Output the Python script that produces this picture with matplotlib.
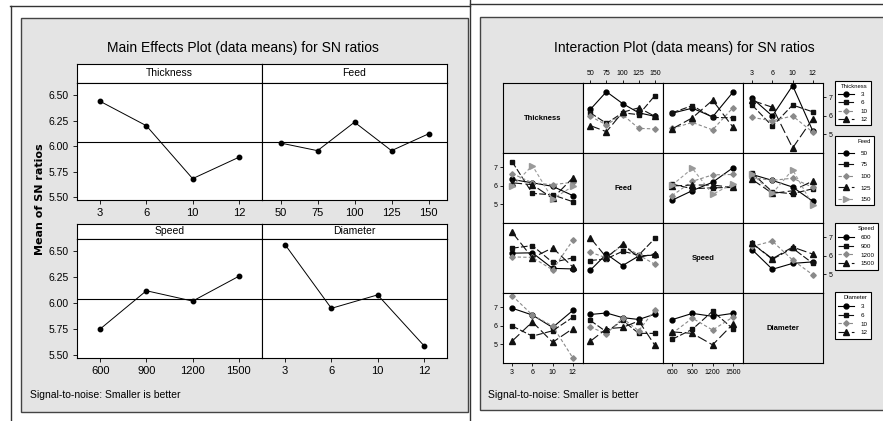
import numpy as np
import matplotlib
matplotlib.use('Agg')
import matplotlib.pyplot as plt
from matplotlib.patches import Rectangle
from matplotlib.lines import Line2D

plt.rcParams['font.family'] = ['Liberation Sans', 'DejaVu Sans']

# factor levels
thickness = ['3', '6', '10', '12']
feed = ['50', '75', '100', '125', '150']
speed = ['600', '900', '1200', '1500']
diameter = ['3', '6', '10', '12']

# main effects (mean SN ratio per level)
sn_thickness = [6.44, 6.20, 5.68, 5.89]
sn_feed = [6.03, 5.955, 6.235, 5.955, 6.12]
sn_speed = [5.75, 6.12, 6.02, 6.26]
sn_diameter = [6.565, 5.95, 6.08, 5.59]
grand_mean = 6.045

# two-way means, rows = first factor levels, cols = second factor levels
sn_thick_feed = [[6.35, 7.31, 6.67, 6.17, 5.98],
                 [6.17, 5.60, 6.17, 6.07, 7.10],
                 [5.98, 5.52, 6.07, 5.33, 5.30],
                 [5.48, 5.15, 6.20, 6.44, 5.98]]
sn_thick_speed = [[6.15, 6.42, 5.95, 7.28],
                  [6.17, 6.56, 5.92, 5.90],
                  [5.33, 5.65, 5.25, 6.44],
                  [5.30, 5.90, 6.85, 5.40]]
sn_thick_diam = [[6.96, 6.00, 7.64, 5.18],
                 [6.59, 5.45, 6.59, 6.22],
                 [5.92, 5.74, 6.00, 5.12],
                 [6.84, 6.47, 4.27, 5.86]]
sn_feed_speed = [[5.23, 5.75, 6.20, 6.98],
                 [6.10, 5.85, 5.90, 5.92],
                 [5.48, 6.25, 6.60, 6.62],
                 [6.00, 6.05, 6.05, 5.92],
                 [6.05, 6.95, 5.55, 6.12]]
sn_feed_diam = [[6.62, 6.30, 5.94, 5.17],
                [6.70, 5.68, 5.58, 5.85],
                [6.45, 6.30, 6.42, 5.92],
                [6.35, 5.60, 5.74, 6.27],
                [6.64, 5.60, 6.88, 4.95]]
sn_speed_diam = [[6.34, 5.28, 5.60, 5.68],
                 [6.68, 5.82, 6.42, 5.60],
                 [6.52, 6.80, 5.78, 4.98],
                 [6.68, 5.85, 6.48, 6.10]]

W, H = 883, 421
fig = plt.figure(figsize=(W / 100, H / 100), dpi=100)
fig.patch.set_facecolor('white')
panel_grey = '#e4e4e4'


def box(x0, y0, x1, y1):
    # pixel box (top-left origin) -> figure rect
    return [x0 / W, 1 - y1 / H, (x1 - x0) / W, (y1 - y0) / H]


def fline(xs, ys, **kw):
    fig.add_artist(Line2D([x / W for x in xs], [1 - y / H for y in ys],
                          transform=fig.transFigure, zorder=-5, **kw))


# page frame lines and grey panels (behind the axes)
fline([10, 470], [6, 6], color='#333', lw=1)
fline([11, 11], [6, 421], color='#333', lw=1)
fline([470, 470], [0, 421], color='#333', lw=1)
fline([470, 883], [4, 4], color='#333', lw=1)
fig.add_artist(Rectangle((21 / W, 1 - 412 / H), 447 / W, 394 / H, transform=fig.transFigure,
                         fc=panel_grey, ec='#444', lw=1, zorder=-10))
fig.add_artist(Rectangle((480 / W, 1 - 410 / H), 410 / W, 393 / H, transform=fig.transFigure,
                         fc=panel_grey, ec='#444', lw=1, zorder=-10))

# ---------------- main effects plot ----------------
fig.text(243 / W, 1 - 48 / H, 'Main Effects Plot (data means) for SN ratios',
         ha='center', va='center', fontsize=10)
fig.text(40 / W, 1 - 199 / H, 'Mean of SN ratios', rotation=90, ha='center', va='center',
         fontsize=8, fontweight='bold', family='DejaVu Sans')
fig.text(30 / W, 1 - 395 / H, 'Signal-to-noise: Smaller is better', ha='left', va='center', fontsize=7.5)

me_factors = [('Thickness', thickness, sn_thickness), ('Feed', feed, sn_feed),
              ('Speed', speed, sn_speed), ('Diameter', diameter, sn_diameter)]
me_cols = [(77, 262), (262, 447)]
me_rows = [(64, 83, 200), (224, 239, 358)]
yt = [5.5, 5.75, 6.0, 6.25, 6.5]

for k, (name, levels, vals) in enumerate(me_factors):
    r, c = divmod(k, 2)
    x0, x1 = me_cols[c]
    s0, p0, p1 = me_rows[r]
    strip = fig.add_axes(box(x0, s0, x1, p0))
    strip.set_xticks([])
    strip.set_yticks([])
    strip.text(0.5, 0.5, name, ha='center', va='center', fontsize=7.5, transform=strip.transAxes)
    ax = fig.add_axes(box(x0, p0, x1, p1))
    pos = np.arange(len(levels))
    ax.plot(pos, vals, color='black', lw=0.7, marker='o', ms=3.2)
    ax.axhline(grand_mean, color='black', lw=0.8)
    ax.set_xlim(-0.5, len(levels) - 0.5)
    ax.set_ylim(5.47, 6.62)
    ax.set_xticks(pos)
    ax.set_xticklabels(levels, fontsize=8)
    ax.set_yticks(yt)
    if c == 0:
        ax.set_yticklabels(['%.2f' % v for v in yt], fontsize=7.5)
    else:
        ax.tick_params(left=False, labelleft=False)
    ax.tick_params(length=3, width=0.6, pad=3)

# ---------------- interaction plot ----------------
fig.text(684 / W, 1 - 48 / H, 'Interaction Plot (data means) for SN ratios',
         ha='center', va='center', fontsize=10)
fig.text(488 / W, 1 - 395 / H, 'Signal-to-noise: Smaller is better', ha='left', va='center', fontsize=7.5)

factors = [('Thickness', thickness), ('Feed', feed), ('Speed', speed), ('Diameter', diameter)]
tables = {(0, 1): sn_thick_feed, (0, 2): sn_thick_speed, (0, 3): sn_thick_diam,
          (1, 2): sn_feed_speed, (1, 3): sn_feed_diam, (2, 3): sn_speed_diam}
markers = ['o', 's', 'D', '^', '>']
colors = ['black', '#111111', '#8a8a8a', '#111111', '#9a9a9a']
styles = ['-', (0, (6, 2)), (0, (3, 2)), (0, (9, 3)), (0, (3, 2))]
msizes = [3.5, 3.4, 2.8, 3.8, 3.8]
col_x = [503, 583, 663, 743, 823]
row_y = [83, 153, 223, 293, 363]
row_handles = {}

for i in range(4):
    for j in range(4):
        ax = fig.add_axes(box(col_x[j], row_y[i], col_x[j + 1], row_y[i + 1]))
        ax.tick_params(bottom=False, left=False, labelbottom=False, labelleft=False,
                       length=2.5, width=0.6, pad=1.5, labelsize=5)
        for s in ax.spines.values():
            s.set_linewidth(0.8)
        if i == j:
            ax.set_facecolor(panel_grey)
            ax.text(0.5, 0.5, factors[i][0], ha='center', va='center', fontsize=5.5,
                    fontweight='bold', transform=ax.transAxes)
            ax.set_xticks([])
            ax.set_yticks([])
            continue
        if (i, j) in tables:
            t = np.array(tables[(i, j)])
        else:
            t = np.array(tables[(j, i)]).T
        xlev = factors[j][1]
        pos = np.arange(len(xlev))
        hs = []
        for k in range(t.shape[0]):
            h, = ax.plot(pos, t[k], color=colors[k], ls=styles[k], lw=0.8,
                         marker=markers[k], ms=msizes[k], mec=colors[k], mfc=colors[k])
            hs.append(h)
        row_handles[i] = hs
        ax.set_xlim(-0.45, len(xlev) - 0.5)
        ax.set_ylim(4.0, 7.78)
        ax.set_xticks(pos)
        ax.set_xticklabels(xlev)
        ax.set_yticks([5, 6, 7])
        if i == 0 and j in (1, 3):
            ax.tick_params(top=True, labeltop=True)
        if i == 3 and j in (0, 2):
            ax.tick_params(bottom=True, labelbottom=True)
        if j == 3 and i in (0, 2):
            ax.tick_params(right=True, labelright=True)
        if j == 0 and i in (1, 3):
            ax.tick_params(left=True, labelleft=True)

leg_tops = [81, 136, 223, 292]
leg_space = [0.45, 1.0, 0.55, 0.55]
for i in range(4):
    name, levels = factors[i]
    leg = fig.legend(row_handles[i], levels, title=name, loc='upper left',
                     bbox_to_anchor=(835 / W, 1 - leg_tops[i] / H), bbox_transform=fig.transFigure,
                     fontsize=4.5, title_fontsize=4.2, frameon=True, fancybox=False,
                     edgecolor='black', framealpha=1, handlelength=2.6, handletextpad=1.0,
                     labelspacing=leg_space[i], borderpad=0.5, borderaxespad=0)
    leg.get_frame().set_linewidth(0.8)
    leg._legend_box.align = 'right'

fig.savefig('out.png', dpi=100)
